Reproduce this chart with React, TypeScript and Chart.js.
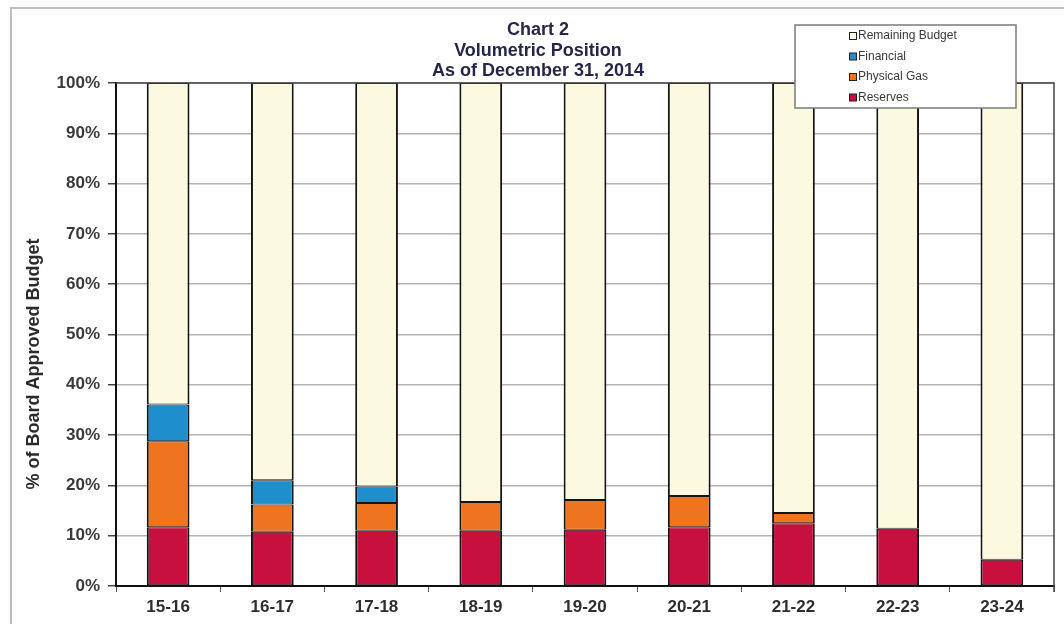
import React, { useEffect, useRef } from "react";
import { Chart, registerables } from "chart.js";

Chart.register(...registerables);

const categories = ["15-16", "16-17", "17-18", "18-19", "19-20", "20-21", "21-22", "22-23", "23-24"];
const reserves = [11.7, 10.8, 11.0, 11.0, 11.2, 11.7, 12.5, 11.4, 5.2];
const physicalGas = [17.1, 5.4, 5.5, 5.7, 5.9, 6.2, 2.0, null, null];
const financial = [7.3, 4.8, 3.3, null, null, null, null, null, null];
const remainingBudget = [63.9, 79.0, 80.2, 83.3, 82.9, 82.1, 85.5, 88.6, 94.8];
const yTicks = [0, 10, 20, 30, 40, 50, 60, 70, 80, 90, 100];
const titleLines = ["Chart 2", "Volumetric Position", "As of December 31, 2014"];
const yTitle = "% of Board Approved Budget";

const COLORS = {
  reserves: "#c8103e",
  physicalGas: "#ee7420",
  financial: "#1e8fcc",
  remaining: "#fcf9e1",
};

const FONT = "Arial, 'Liberation Sans', sans-serif";

const decorPlugin = {
  id: "decor",
  beforeDraw(chart: any) {
    const ctx = chart.ctx;
    ctx.save();
    ctx.fillStyle = "#ffffff";
    ctx.fillRect(0, 0, chart.width, chart.height);
    ctx.restore();
  },
  afterDraw(chart: any) {
    const ctx = chart.ctx;
    const ca = chart.chartArea;
    ctx.save();
    // outer frame
    ctx.strokeStyle = "#bdbdbd";
    ctx.lineWidth = 2;
    ctx.beginPath();
    ctx.moveTo(11, chart.height);
    ctx.lineTo(11, 8);
    ctx.lineTo(chart.width, 8);
    ctx.stroke();

    // plot border (top / right)
    ctx.strokeStyle = "#444444";
    ctx.lineWidth = 1.5;
    ctx.beginPath();
    ctx.moveTo(ca.left, ca.top);
    ctx.lineTo(ca.right, ca.top);
    ctx.lineTo(ca.right, ca.bottom + 6);
    ctx.stroke();

    // titles
    ctx.fillStyle = "#26264a";
    ctx.font = `bold 18px ${FONT}`;
    ctx.textAlign = "center";
    ctx.textBaseline = "middle";
    const tys = [30, 51, 71.5];
    titleLines.forEach((t, i) => ctx.fillText(t, 538, tys[i]));

    // y-axis title
    ctx.save();
    ctx.translate(34, 364);
    ctx.rotate(-Math.PI / 2);
    ctx.fillStyle = "#2a2a2a";
    ctx.font = `bold 18px ${FONT}`;
    ctx.fillText(yTitle, 0, 0);
    ctx.restore();

    // legend box
    const lx = 795, ly = 25, lw = 221, lh = 83;
    ctx.fillStyle = "#ffffff";
    ctx.fillRect(lx, ly, lw, lh);
    ctx.strokeStyle = "#7a7a7a";
    ctx.lineWidth = 1.5;
    ctx.strokeRect(lx, ly, lw, lh);
    const items = [...chart.data.datasets].reverse();
    const rows = [36, 56.5, 77, 97.5];
    ctx.font = `12px ${FONT}`;
    ctx.textAlign = "left";
    ctx.textBaseline = "middle";
    items.forEach((ds: any, i: number) => {
      const y = rows[i];
      ctx.fillStyle = ds.backgroundColor;
      ctx.fillRect(849, y - 3.5, 7, 7);
      ctx.strokeStyle = "#222";
      ctx.lineWidth = 1;
      ctx.strokeRect(849.5, y - 3.5, 7, 7);
      ctx.fillStyle = "#3a3a3a";
      ctx.fillText(ds.label, 858, y);
    });
    ctx.restore();
  },
};

export default function App() {
  const ref = useRef<HTMLCanvasElement | null>(null);
  useEffect(() => {
    document.body.style.margin = "0";
    if (!ref.current) return;
    const mk = (label: string, data: (number | null)[], color: string) => ({
      label,
      data,
      backgroundColor: color,
      borderColor: "#141414",
      borderWidth: { left: 2, right: 2, top: 1, bottom: 1 },
      borderSkipped: false,
      barPercentage: 0.41,
      categoryPercentage: 1,
    });
    const chart = new Chart(ref.current, {
      type: "bar",
      data: {
        labels: categories,
        datasets: [
          mk("Reserves", reserves, COLORS.reserves),
          mk("Physical Gas", physicalGas, COLORS.physicalGas),
          mk("Financial", financial, COLORS.financial),
          mk("Remaining Budget", remainingBudget, COLORS.remaining),
        ],
      },
      options: {
        responsive: false,
        animation: false,
        layout: { padding: { top: 83, right: 10, left: 0, bottom: 0 } },
        plugins: {
          legend: { display: false },
          title: { display: false },
          tooltip: { enabled: false },
        },
        scales: {
          x: {
            stacked: true,
            afterFit: (s: any) => { s.height = 38; },
            grid: {
              display: true,
              drawOnChartArea: false,
              drawTicks: true,
              tickLength: 6,
              tickColor: "#555",
              offset: true,
            },
            border: { display: true, color: "#111", width: 2 },
            ticks: {
              color: "#2e2e2e",
              padding: 5,
              font: { family: FONT, size: 17, weight: "bold" },
            },
          },
          y: {
            stacked: true,
            min: 0,
            max: 100,
            afterFit: (s: any) => { s.width = 116; },
            afterBuildTicks: (s: any) => { s.ticks = yTicks.map((v) => ({ value: v })); },
            grid: {
              color: "#b5b5b5",
              lineWidth: 1.5,
              drawTicks: true,
              tickLength: 8,
              tickColor: "#444",
            },
            border: { display: true, color: "#111", width: 2 },
            ticks: {
              color: "#3a3a3a",
              padding: 8,
              font: { family: FONT, size: 17, weight: "bold" },
              callback: (v: any) => `${v}%`,
            },
          },
        },
      },
      plugins: [decorPlugin],
    } as any);
    return () => chart.destroy();
  }, []);
  return (
    <div style={{ width: 1064, height: 624, position: "relative" }}>
      <canvas ref={ref} width={1064} height={624} style={{ display: "block" }} />
    </div>
  );
}
